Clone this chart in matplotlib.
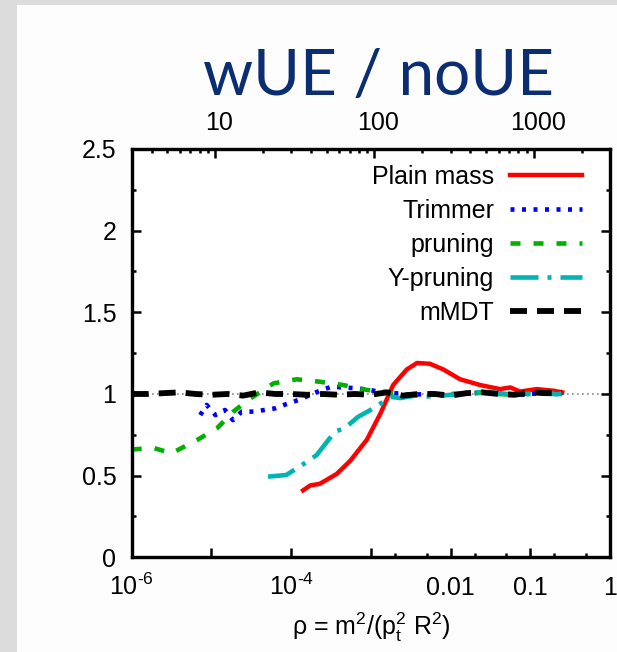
import numpy as np
import matplotlib
matplotlib.use("Agg")
import matplotlib.pyplot as plt
from matplotlib.patches import Rectangle
from matplotlib.ticker import FixedLocator, NullFormatter
import matplotlib.transforms as mtransforms

plt.rcParams['font.family'] = ['Liberation Sans', 'DejaVu Sans']
plt.rcParams['mathtext.fontset'] = 'custom'
plt.rcParams['mathtext.rm'] = 'Liberation Sans'
plt.rcParams['mathtext.it'] = 'Liberation Sans:italic'
plt.rcParams['mathtext.bf'] = 'Liberation Sans:bold'
plt.rcParams['mathtext.default'] = 'regular'
plt.rcParams['lines.scale_dashes'] = False

# ---- data: log10(rho) positions and wUE/noUE ratios ----
logrho_plain = [-3.85, -3.76, -3.64, -3.43, -3.26, -3.05, -2.88, -2.72, -2.55, -2.42,
                -2.26, -2.09, -1.88, -1.63, -1.38, -1.25, -1.13, -0.92, -0.71, -0.60]
ratio_plain = [0.41, 0.44, 0.45, 0.51, 0.59, 0.72, 0.88, 1.055, 1.15, 1.19,
               1.185, 1.15, 1.09, 1.055, 1.03, 1.04, 1.015, 1.03, 1.02, 1.01]

logrho_trim = [-5.14, -5.06, -4.95, -4.83, -4.73, -4.62, -4.47, -4.20, -4.06, -3.91,
               -3.76, -3.64, -3.49, -3.35, -3.18, -2.88, -2.70, -2.50, -2.30, -2.10,
               -1.90, -1.70, -1.50, -1.30, -1.10, -0.90, -0.75, -0.60]
ratio_trim = [0.871, 0.933, 0.871, 0.902, 0.84, 0.892, 0.892, 0.912, 0.938, 0.963,
              0.994, 1.02, 1.045, 1.04, 1.035, 1.014, 1.005, 0.995, 1.0, 0.995,
              1.0, 1.005, 1.01, 1.0, 0.995, 1.005, 1.0, 1.0]

logrho_prun = [-6.00, -5.73, -5.50, -5.18, -4.93, -4.73, -4.52, -4.22, -3.93, -3.64,
               -3.35, -3.05, -2.80, -2.60, -2.40, -2.20, -2.00, -1.80, -1.60, -1.40,
               -1.20, -1.00, -0.80, -0.60]
ratio_prun = [0.66, 0.67, 0.637, 0.718, 0.79, 0.89, 0.97, 1.065, 1.09, 1.075,
              1.055, 1.025, 1.01, 0.995, 1.0, 0.995, 1.0, 1.005, 1.01, 1.0,
              0.995, 1.005, 1.01, 1.0]

logrho_ypr = [-4.29, -4.06, -3.83, -3.68, -3.45, -3.33, -3.16, -2.93, -2.76, -2.63,
              -2.45, -2.30, -2.10, -1.90, -1.70, -1.50, -1.30, -1.10, -0.90, -0.75, -0.60]
ratio_ypr = [0.494, 0.504, 0.576, 0.626, 0.77, 0.79, 0.86, 0.922, 0.983, 0.975,
             0.99, 0.985, 0.99, 1.0, 1.01, 1.01, 1.0, 0.995, 1.005, 1.0, 1.0]

logrho_mmdt = [-6.0, -5.8, -5.6, -5.4, -5.2, -5.0, -4.8, -4.6, -4.4, -4.2, -4.0, -3.8,
               -3.6, -3.4, -3.2, -3.0, -2.8, -2.6, -2.4, -2.2, -2.0, -1.8, -1.6, -1.4,
               -1.2, -1.0, -0.8, -0.6]
ratio_mmdt = [1.0, 1.0, 1.005, 1.01, 1.0, 0.995, 1.0, 0.99, 1.01, 1.0, 1.0, 0.995,
              1.0, 0.995, 1.0, 0.995, 1.01, 0.99, 1.0, 1.0, 0.99, 1.005, 1.01, 1.0,
              0.995, 1.01, 1.005, 1.01]

series_labels = ["Plain mass", "Trimmer", "pruning", "Y-pruning", "mMDT"]

xtick_vals = [1e-6, 1e-5, 1e-4, 1e-3, 1e-2, 1e-1, 1]
xtick_labels = [r"$10^{\text{-6}}$", "", r"$10^{\text{-4}}$", "", "0.01", "0.1", "1"]
ytick_vals = [0, 0.5, 1, 1.5, 2, 2.5]
ytick_labels = ["0", "0.5", "1", "1.5", "2", "2.5"]
mass_ticks = [10, 100, 1000]
mass_labels = ["10", "100", "1000"]
ptR = 3000.0  # m = pt*R*sqrt(rho)

FS = 18

W, H = 617, 652
fig = plt.figure(figsize=(W / 100, H / 100), dpi=100)
fig.patch.set_facecolor('#dcdcdc')
fig.patches.append(Rectangle((17 / W, 0), 1 - 17 / W, 1 - 5 / H,
                             transform=fig.transFigure, facecolor='#fdfdfd',
                             edgecolor='none', zorder=-10))

fig.text(378 / W, 1 - 95 / H, "wUE / noUE", ha='center', va='baseline',
         fontsize=46, family='Lato', color='#0b2d72')

left, right, top, bottom = 131.7, 610.0, 149.0, 557.3
ax = fig.add_axes([left / W, 1 - bottom / H, (right - left) / W, (bottom - top) / H])
ax.set_facecolor('white')
ax.set_xscale('log')
ax.set_xlim(1e-6, 1)
ax.set_ylim(0, 2.5)

px = 0.72  # points per pixel

ax.axhline(1.0, color='#808080', lw=1.1, dashes=(1.2, 2.4), zorder=1)

def rho(v):
    return np.power(10.0, np.asarray(v))

ax.plot(rho(logrho_plain), ratio_plain, color='#ff0000', lw=3.2,
        label=series_labels[0], zorder=2)
ax.plot(rho(logrho_trim), ratio_trim, color='#0000ff', lw=3.3,
        dashes=(4 * px, 7.5 * px), label=series_labels[1], zorder=3)
ax.plot(rho(logrho_prun), ratio_prun, color='#00b000', lw=3.3,
        dashes=(10 * px, 13 * px), label=series_labels[2], zorder=4)
ax.plot(rho(logrho_ypr), ratio_ypr, color='#00b4b4', lw=3.3,
        dashes=(28 * px, 9 * px, 4 * px, 9 * px), label=series_labels[3], zorder=5)
ax.plot(rho(logrho_mmdt), ratio_mmdt, color='black', lw=4.2,
        dashes=(17 * px, 10 * px), label=series_labels[4], zorder=6)

# axes frame and ticks
for s in ax.spines.values():
    s.set_linewidth(2.3)
ax.set_yticks(ytick_vals)
ax.set_yticklabels(ytick_labels)
ax.yaxis.set_minor_locator(FixedLocator([0.25, 0.75, 1.25, 1.75, 2.25]))
ax.set_xticks(xtick_vals)
ax.set_xticklabels(xtick_labels)
minor_x = [2e-3, 5e-3, 2e-2, 5e-2, 2e-1, 5e-1]
ax.xaxis.set_minor_locator(FixedLocator(minor_x))
ax.xaxis.set_minor_formatter(NullFormatter())
ax.tick_params(axis='both', which='both', direction='in', top=False, right=True,
               width=1.8, labelsize=FS)
ax.tick_params(axis='both', which='major', length=6.8)
ax.tick_params(axis='both', which='minor', length=3.2)
ax.tick_params(axis='y', which='major', pad=11)
ax.tick_params(axis='x', which='major', pad=27)
for lbl in ax.get_xticklabels():
    lbl.set_verticalalignment('baseline')

ax.set_xlabel(r"ρ = m$^2$/(p$_t^2$ R$^2$)", fontsize=FS, labelpad=8)

# top axis: jet mass
axm = ax.twiny()
axm.set_xscale('log')
axm.set_xlim(ptR * np.sqrt(1e-6), ptR * np.sqrt(1.0))
axm.set_xticks(mass_ticks)
axm.set_xticklabels(mass_labels)
mass_minor = [m * k for m in [1, 10, 100, 1000] for k in range(2, 10)
              if 3 < m * k < 3000]
axm.xaxis.set_minor_locator(FixedLocator(mass_minor))
axm.xaxis.set_minor_formatter(NullFormatter())
axm.tick_params(axis='x', which='both', direction='in', width=1.8, labelsize=FS)
axm.tick_params(axis='x', which='major', length=6.8, pad=10)
axm.tick_params(axis='x', which='minor', length=3.2)
shift = mtransforms.ScaledTranslation(4 / 100, 0, fig.dpi_scale_trans)
for lbl in axm.get_xticklabels():
    lbl.set_transform(lbl.get_transform() + shift)
for s in axm.spines.values():
    s.set_linewidth(2.3)

leg = ax.legend(loc='upper right', bbox_to_anchor=(0.9415, 0.962), frameon=False,
                markerfirst=False, fontsize=FS, handlelength=2.88,
                handletextpad=0.64, labelspacing=0.4, borderpad=0,
                borderaxespad=0)

fig.savefig("out.png", dpi=100)
